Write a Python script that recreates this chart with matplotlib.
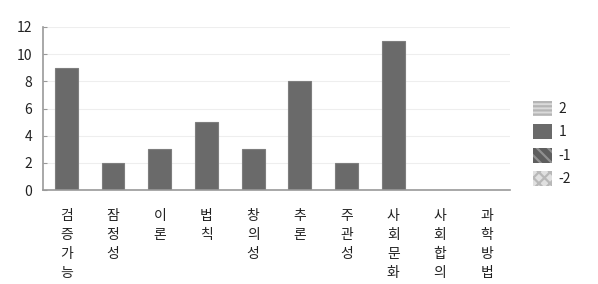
import matplotlib.pyplot as plt
from matplotlib.patches import Patch
import numpy as np

plt.rcParams['font.family'] = ['Noto Sans CJK KR', 'DejaVu Sans']
plt.rcParams['hatch.linewidth'] = 1.6

# 데이터
categories = ["검증가능", "잠정성", "이론", "법칙", "창의성", "추론", "주관성", "사회문화", "사회합의", "과학방법"]
series_names = ["2", "1", "-1", "-2"]
s_2 = [0, 0, 0, 0, 0, 0, 0, 0, 0, 0]
s_1 = [9, 2, 3, 5, 3, 8, 2, 11, 0, 0]
s_m1 = [0, 0, 0, 0, 0, 0, 0, 0, 0, 0]
s_m2 = [0, 0, 0, 0, 0, 0, 0, 0, 0, 0]

fig = plt.figure(figsize=(5.98, 2.84), dpi=100)
ax = fig.add_axes([43 / 598, 1 - 190 / 284, 467 / 598, 163 / 284])

x = np.arange(len(categories))
w = 0.49
styles = [
    dict(facecolor='#dadada', edgecolor='#b5b5b5', hatch='----'),
    dict(facecolor='#6a6a6a', edgecolor='#6a6a6a', hatch=None),
    dict(facecolor='#5e5e5e', edgecolor='#909090', hatch='\\\\\\'),
    dict(facecolor='#e0e0e0', edgecolor='#b8b8b8', hatch='xxx'),
]
bottom = np.zeros(len(categories))
for vals, st in zip([s_2, s_1, s_m1, s_m2], styles):
    vals = np.array(vals, dtype=float)
    lw = [0.8 if v > 0 else 0 for v in vals]
    ax.bar(x, vals, w, bottom=bottom, facecolor=st['facecolor'],
           edgecolor='#7e7e7e', linewidth=lw, zorder=3)
    bottom += vals

ax.set_xlim(-0.5, len(categories) - 0.5)
ax.set_ylim(0, 12)
ax.set_yticks(range(0, 13, 2))
ax.grid(axis='y', color='#eeeeee', linewidth=0.8, zorder=0)
for s in ['top', 'right']:
    ax.spines[s].set_visible(False)
for s in ['left', 'bottom']:
    ax.spines[s].set_color('#999999')
    ax.spines[s].set_linewidth(1.2)
    ax.spines[s].set_zorder(4)
ax.tick_params(axis='y', colors='#999999', labelcolor='#222222', labelsize=10,
               length=3, direction='in', pad=8)
ax.tick_params(axis='x', length=0, labelsize=10, labelcolor='#222222', pad=14)
ax.set_xticks(x)
ax.set_xticklabels(['\n'.join(c) for c in categories], linespacing=1.45, va='top')

handles = [Patch(facecolor=st['facecolor'], edgecolor=st['edgecolor'],
                 hatch=st['hatch'], linewidth=0) for st in styles]
ax.legend(handles, series_names, loc='center left', bbox_to_anchor=(1.022, 0.285),
          frameon=False, handlelength=1.4, handleheight=1.3, handletextpad=0.45,
          labelspacing=0.6, fontsize=10, labelcolor='#222222')

fig.savefig('out.png', dpi=100)
